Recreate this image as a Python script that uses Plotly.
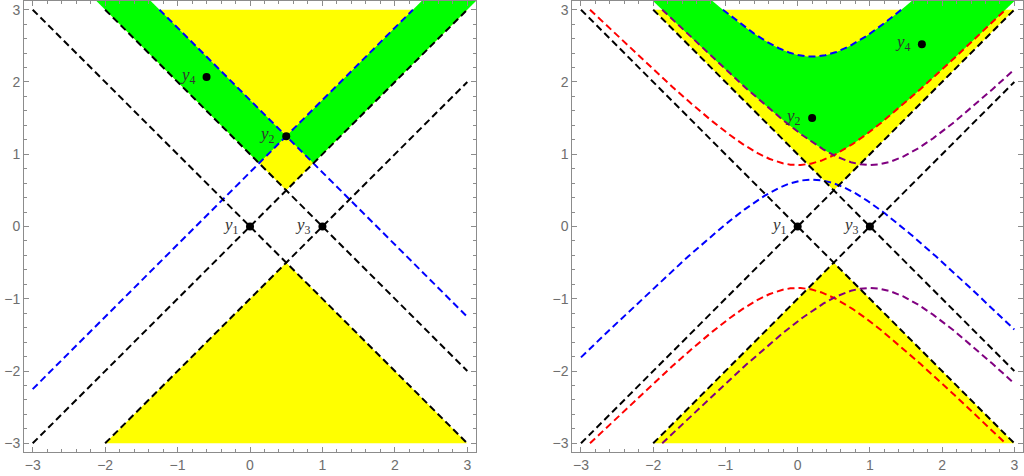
import numpy as np
import plotly.graph_objects as go

# ---------------- data ----------------
# left panel points (degenerate case, hyperbola radius 0)
L_y1 = (0.0, 0.0)
L_y2 = (0.5, 1.25)
L_y3 = (1.0, 0.0)
L_y4 = (-0.6, 2.07)
L_r = 0.0

# right panel points
R_y1 = (0.0, 0.0)
R_y2 = (0.2, 1.5)
R_y3 = (1.0, 0.0)
R_y4 = (1.72, 2.52)
R_r = 0.85

point_names = ["y1", "y2", "y3", "y4"]
tick_vals = [-3, -2, -1, 0, 1, 2, 3]

XR = [-3.12, 3.12]
YR = [-3.12, 3.12]
LIM = 3.0

YELLOW = "#ffff00"
GREEN = "#00ff00"
DASH = "7px,4px"

fig = go.Figure()

x_dense = np.linspace(-3.0, 3.0, 2401)
x_ext = np.linspace(XR[0], XR[1], 2497)


def hyp_up(x, c, r):
    return c[1] + np.sqrt((x - c[0]) ** 2 + r ** 2)


def hyp_lo(x, c, r):
    return c[1] - np.sqrt((x - c[0]) ** 2 + r ** 2)


def clip_line(y):
    y = y.copy()
    y[(y > LIM + 1e-9) | (y < -LIM - 1e-9)] = np.nan
    return y


def add_band(xa, lower, upper, color, xref, yref):
    ok = (upper - lower) > 1e-9
    idx = np.where(ok)[0]
    if len(idx) == 0:
        return
    # split into contiguous runs
    breaks = np.where(np.diff(idx) > 1)[0]
    starts = np.concatenate([[idx[0]], idx[breaks + 1]])
    ends = np.concatenate([idx[breaks], [idx[-1]]])
    for s, e in zip(starts, ends):
        s0 = max(s - 1, 0)
        e0 = min(e + 1, len(xa) - 1)
        xs_seg = xa[s0:e0 + 1]
        lo = lower[s0:e0 + 1]
        up = upper[s0:e0 + 1]
        xs = np.concatenate([xs_seg, xs_seg[::-1]])
        ys = np.concatenate([lo, up[::-1]])
        fig.add_trace(go.Scatter(x=xs, y=ys, fill="toself", fillcolor=color,
                                 mode="none",
                                 hoverinfo="skip", showlegend=False,
                                 xaxis=xref, yaxis=yref))


def add_panel(y1, y2, y3, y4, r, xref, yref, colored):
    # yellow: future of both y1 and y3, and past of both
    xa = x_dense
    top_low = np.minimum(np.maximum(np.abs(xa - y1[0]) + y1[1], np.abs(xa - y3[0]) + y3[1]), LIM)
    add_band(xa, top_low, np.full_like(xa, LIM), YELLOW, xref, yref)
    bot_up = np.maximum(np.minimum(y1[1] - np.abs(xa - y1[0]), y3[1] - np.abs(xa - y3[0])), -LIM)
    add_band(xa, np.full_like(xa, -LIM), bot_up, YELLOW, xref, yref)

    # green region
    xe = x_ext
    lower = np.maximum.reduce([hyp_up(xe, y1, r), hyp_up(xe, y3, r), hyp_lo(xe, y2, r)])
    upper = np.minimum(hyp_up(xe, y2, r), YR[1])
    lower = np.minimum(lower, YR[1])
    upper = np.maximum(upper, lower)
    add_band(xe, lower, upper, GREEN, xref, yref)

    # curves
    if colored:
        for c, col in [(y1, "#ff0000"), (y3, "#800080")]:
            for f in (hyp_up, hyp_lo):
                fig.add_trace(go.Scatter(x=x_dense, y=clip_line(f(x_dense, c, r)), mode="lines",
                                         line=dict(color=col, width=2, dash=DASH),
                                         hoverinfo="skip", showlegend=False,
                                         xaxis=xref, yaxis=yref))
    for f in (hyp_up, hyp_lo):
        fig.add_trace(go.Scatter(x=x_dense, y=clip_line(f(x_dense, y2, r)), mode="lines",
                                 line=dict(color="#0000ff", width=2, dash=DASH),
                                 hoverinfo="skip", showlegend=False,
                                 xaxis=xref, yaxis=yref))
    # light cones (black)
    for c in (y1, y3):
        for s in (1, -1):
            yy = c[1] + s * (x_dense - c[0])
            fig.add_trace(go.Scatter(x=x_dense, y=clip_line(yy), mode="lines",
                                     line=dict(color="#000000", width=2, dash=DASH),
                                     hoverinfo="skip", showlegend=False,
                                     xaxis=xref, yaxis=yref))
    # points
    pts = [y1, y2, y3, y4]
    fig.add_trace(go.Scatter(x=[p[0] for p in pts], y=[p[1] for p in pts], mode="markers",
                             marker=dict(color="#000000", size=8),
                             hoverinfo="skip", showlegend=False,
                             xaxis=xref, yaxis=yref))
    for name, p in zip(point_names, pts):
        fig.add_annotation(x=p[0], y=p[1], xref=xref, yref=yref,
                           text="<i>y</i><sub>" + name[1] + "</sub>",
                           showarrow=False, xanchor="right", yanchor="middle",
                           xshift=-9, yshift=1,
                           font=dict(family="Liberation Serif", size=17, color="#333333"))


add_panel(L_y1, L_y2, L_y3, L_y4, L_r, "x", "y", colored=False)
add_panel(R_y1, R_y2, R_y3, R_y4, R_r, "x2", "y2", colored=True)

axis_common = dict(
    range=XR, showgrid=False, zeroline=False,
    showline=True, linecolor="#8c8c8c", linewidth=1, mirror="allticks",
    ticks="inside", ticklen=5, tickwidth=1, tickcolor="#8c8c8c",
    tickvals=tick_vals, ticktext=[("\u2212" + str(-v)) if v < 0 else str(v) for v in tick_vals],
    tickfont=dict(family="Liberation Sans", size=14, color="#6e6e6e"),
    minor=dict(ticks="inside", ticklen=3, tickcolor="#8c8c8c", dtick=0.2, tick0=0, showgrid=False),
)

W = 1024
H = 476
ml, mr, mt, mb = 24, 1, 1, 24
pw = W - ml - mr
left_w = 452
right_start = 572.3 - ml

fig.update_layout(
    width=W, height=H,
    margin=dict(l=ml, r=mr, t=mt, b=mb),
    paper_bgcolor="white", plot_bgcolor="white",
    showlegend=False,
    xaxis=dict(axis_common, domain=[0, left_w / pw], anchor="y"),
    yaxis=dict(axis_common, range=YR, domain=[0, 1], anchor="x"),
    xaxis2=dict(axis_common, domain=[right_start / pw, 1], anchor="y2"),
    yaxis2=dict(axis_common, range=YR, domain=[0, 1], anchor="x2"),
)

fig.write_html("out.html", config={"displayModeBar": False},
               post_script="document.body.style.margin='0';document.body.style.overflow='hidden';")
